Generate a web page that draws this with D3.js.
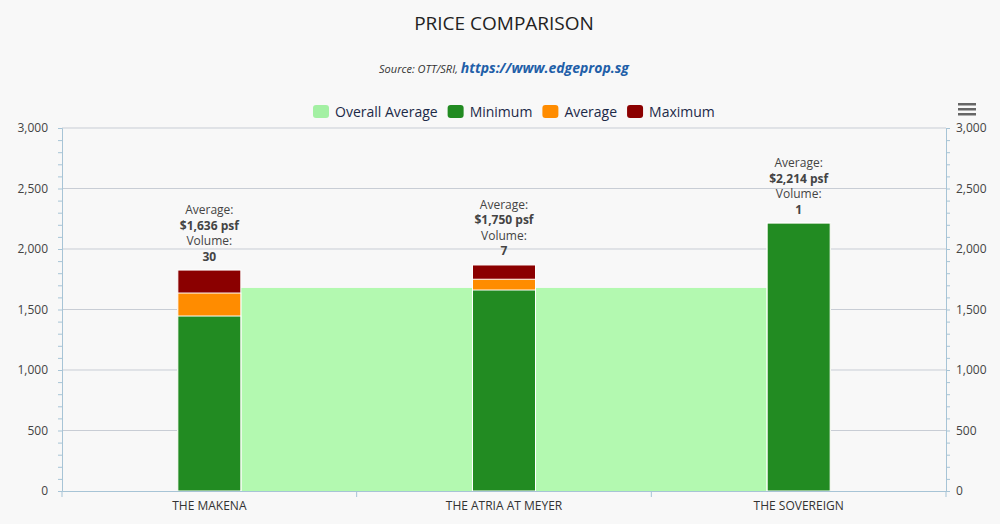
<!DOCTYPE html>
<html lang="en">
<head>
<meta charset="UTF-8">
<script src="https://d3js.org/d3.v7.min.js"></script>
<style>
  body { margin: 0; background: #f8f8f8; font-family: "Open Sans", "DejaVu Sans", sans-serif; }
  svg text { font-family: "Open Sans", "DejaVu Sans", sans-serif; }
</style>
</head>
<body>
<svg></svg>
<script>
const categories = ["THE MAKENA", "THE ATRIA AT MEYER", "THE SOVEREIGN"];
const minimum = [1446, 1661, 2214];
const average = [1636, 1750, 2214];
const maximum = [1826, 1868, 2214];
const volume = [30, 7, 1];
const overallAverage = 1678;
const yTicks = [0, 500, 1000, 1500, 2000, 2500, 3000];

const width = 1000, height = 524;
const margin = {top: 128, right: 54, bottom: 33, left: 62};
const svg = d3.select("svg").attr("width", width).attr("height", height);
svg.append("rect").attr("width", width).attr("height", height).attr("fill", "#f8f8f8");

const x = d3.scaleBand().domain(categories).range([margin.left, width - margin.right]);
const y = d3.scaleLinear().domain([0, 3000]).range([height - margin.bottom, margin.top]);
const barW = 63;
const cx = d => x(d) + x.bandwidth() / 2;

// title
svg.append("text").attr("x", 504).attr("y", 30).attr("text-anchor", "middle")
  .attr("font-size", 19).attr("fill", "#222").text("PRICE COMPARISON");
const src = svg.append("text").attr("x", 504).attr("y", 73).attr("text-anchor", "middle").attr("font-style", "italic");
src.append("tspan").attr("font-size", 11).attr("fill", "#333").text("Source: OTT/SRI, ");
src.append("tspan").attr("font-size", 14).attr("font-weight", "bold").attr("fill", "#1f5fa8").text("https://www.edgeprop.sg");

// legend
const legend = [["Overall Average", "#a3f0a3"], ["Minimum", "#228b22"], ["Average", "#ff8c00"], ["Maximum", "#8b0000"]];
let lx = 313;
legend.forEach(([name, c]) => {
  svg.append("rect").attr("x", lx).attr("y", 105).attr("width", 16).attr("height", 13).attr("rx", 3).attr("fill", c);
  const t = svg.append("text").attr("x", lx + 22).attr("y", 117).attr("font-size", 14).attr("fill", "#1c2a48").text(name);
  lx += 22 + t.node().getComputedTextLength() + 10;
});

// menu icon
[0, 5, 10].forEach(o => svg.append("rect").attr("x", 958).attr("y", 103 + o).attr("width", 18).attr("height", 2.5).attr("fill", "#666"));

// grid
svg.append("g").selectAll("line").data(yTicks.slice(1)).join("line")
  .attr("x1", margin.left).attr("x2", width - margin.right)
  .attr("y1", d => y(d)).attr("y2", d => y(d)).attr("stroke", "#c8cdd5");

// axes
const fmt = d3.format(",");
const left = svg.append("g").attr("transform", `translate(${margin.left},0)`)
  .call(d3.axisLeft(y).tickValues(d3.range(0, 3001, 100)).tickSize(4).tickFormat(d => d % 500 ? "" : fmt(d)));
const right = svg.append("g").attr("transform", `translate(${width - margin.right},0)`)
  .call(d3.axisRight(y).tickValues(d3.range(0, 3001, 100)).tickSize(4).tickFormat(d => d % 500 ? "" : fmt(d)));
[left, right].forEach(g => {
  g.select(".domain").attr("stroke", "#a7c4d6");
  g.selectAll(".tick line").attr("stroke", "#a7c4d6");
  g.selectAll("text").attr("font-size", 12).attr("fill", "#444");
});
left.selectAll("text").attr("x", -14);
right.selectAll("text").attr("x", 10);

// overall average
svg.append("rect").attr("x", cx(categories[0])).attr("width", cx(categories[2]) - cx(categories[0]))
  .attr("y", y(overallAverage)).attr("height", y(0) - y(overallAverage)).attr("fill", "#b3f9b0");

// bars
[[maximum, "#8b0000"], [average, "#ff8c00"], [minimum, "#228b22"]].forEach(([vals, c]) => {
  svg.append("g").selectAll("rect").data(categories).join("rect")
    .attr("x", d => cx(d) - barW / 2).attr("width", barW)
    .attr("y", (d, i) => y(vals[i])).attr("height", (d, i) => y(0) - y(vals[i]))
    .attr("fill", c).attr("stroke", "#fff").attr("stroke-width", 1);
});

// labels
categories.forEach((d, i) => {
  const top = y(maximum[i]);
  const lines = [["Average:", "normal"], ["$" + fmt(average[i]) + " psf", "bold"], ["Volume:", "normal"], [String(volume[i]), "bold"]];
  lines.forEach(([t, w], k) => {
    svg.append("text").attr("x", cx(d)).attr("y", top - 56 + k * 15.5).attr("text-anchor", "middle")
      .attr("font-size", 12).attr("font-weight", w).attr("fill", "#444").text(t);
  });
});

// x axis
const xa = svg.append("g").attr("transform", `translate(0,${y(0)})`)
  .call(d3.axisBottom(x).tickSize(0).tickPadding(10));
xa.select(".domain").attr("stroke", "#a7c4d6");
xa.selectAll("text").attr("font-size", 12).attr("fill", "#333");
svg.append("g").selectAll("line").data(d3.range(4)).join("line")
  .attr("x1", i => margin.left + i * x.bandwidth()).attr("x2", i => margin.left + i * x.bandwidth())
  .attr("y1", y(0)).attr("y2", y(0) + 6).attr("stroke", "#a7c4d6");
</script>
</body>
</html>
